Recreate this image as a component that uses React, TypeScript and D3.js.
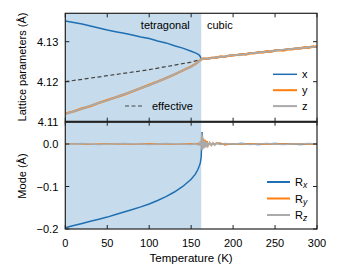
import * as d3 from "d3";

// lattice parameters vs temperature
const latT = [0, 10, 20, 30, 40, 50, 60, 70, 80, 90, 100, 110, 120, 130, 140, 150, 155, 158, 160, 162,
  165, 170, 175, 180, 185, 190, 195, 200, 205, 210, 215, 220, 225, 230, 235, 240, 245, 250, 255, 260, 265, 270, 275, 280, 285, 290, 295, 300];
const latX = [4.1352, 4.1348, 4.1344, 4.1339, 4.1334, 4.1329, 4.1325, 4.1321, 4.1317, 4.1312, 4.1308, 4.1302, 4.1297, 4.1290, 4.1284, 4.1276, 4.1272, 4.1269, 4.1266, 4.1258,
  4.1257, 4.1258, 4.1259, 4.1261, 4.1262, 4.1263, 4.1265, 4.1266, 4.1267, 4.1268, 4.1269, 4.1271, 4.1272, 4.1273, 4.1274, 4.1275, 4.1276, 4.1278, 4.1279, 4.1280, 4.1281, 4.1282, 4.1283, 4.1284, 4.1285, 4.1286, 4.1287, 4.1288];
const latY = [4.1120, 4.1126, 4.1133, 4.1139, 4.1147, 4.1154, 4.1161, 4.1168, 4.1176, 4.1184, 4.1192, 4.1200, 4.1209, 4.1218, 4.1228, 4.1238, 4.1244, 4.1249, 4.1252, 4.1256,
  4.1258, 4.1257, 4.1260, 4.1260, 4.1263, 4.1262, 4.1265, 4.1266, 4.1267, 4.1269, 4.1268, 4.1271, 4.1271, 4.1274, 4.1273, 4.1276, 4.1275, 4.1278, 4.1279, 4.1278, 4.1281, 4.1281, 4.1283, 4.1283, 4.1286, 4.1285, 4.1288, 4.1287];
const latZ = [4.1119, 4.1126, 4.1132, 4.1140, 4.1147, 4.1153, 4.1161, 4.1169, 4.1176, 4.1184, 4.1191, 4.1200, 4.1209, 4.1219, 4.1228, 4.1237, 4.1244, 4.1248, 4.1252, 4.1256,
  4.1257, 4.1258, 4.1259, 4.1261, 4.1262, 4.1263, 4.1265, 4.1266, 4.1267, 4.1268, 4.1269, 4.1271, 4.1272, 4.1273, 4.1274, 4.1275, 4.1276, 4.1278, 4.1279, 4.1280, 4.1281, 4.1282, 4.1283, 4.1284, 4.1285, 4.1286, 4.1287, 4.1288];
const effT = [0, 50, 100, 150, 162];
const effective = [4.1200, 4.1215, 4.1230, 4.1249, 4.1256];

// mode amplitudes vs temperature
const modeT = [0, 10, 20, 30, 40, 50, 60, 70, 80, 90, 100, 110, 120, 130, 140, 150,
  155, 158, 160, 161, 162, 162.5, 163, 163.5, 164, 165, 166, 167, 168, 169, 170,
  172, 174, 176, 178, 180, 185, 190, 200, 210, 220, 230, 240, 250, 260, 270, 280, 290, 300];
const modeX = [-0.197, -0.192, -0.187, -0.182, -0.177, -0.172, -0.166, -0.160, -0.154, -0.148, -0.141, -0.133, -0.124, -0.113, -0.100, -0.083,
  -0.071, -0.060, -0.050, -0.044, -0.030, 0.000, 0.028, -0.004, 0.012, 0.006, -0.006, 0.004, -0.003, 0.003, -0.002,
  0.002, -0.002, 0.001, -0.001, 0.001, 0.001, -0.001, 0.000, 0.001, 0.000, -0.001, 0.000, 0.001, 0.000, 0.000, -0.001, 0.000, 0.000];
const modeY = [0, 0.001, 0, -0.001, 0, 0.001, 0, 0, -0.001, 0, 0.001, 0, 0, -0.001, 0, 0.001,
  0, 0.002, -0.002, 0.003, -0.004, 0.010, -0.012, 0.015, -0.010, 0.012, -0.008, 0.010, -0.006, 0.007, -0.005,
  0.004, -0.004, 0.003, -0.003, 0.002, 0.002, -0.002, 0.001, -0.001, 0.001, 0, -0.001, 0.001, 0, 0, 0.001, -0.001, 0];
const modeZ = [0, 0, 0.001, 0, -0.001, 0, 0, 0.001, 0, 0, -0.001, 0, 0.001, 0, 0, -0.001,
  0.001, -0.002, 0.003, -0.004, 0.008, 0.025, -0.015, 0.020, -0.012, 0.008, -0.010, 0.006, -0.007, 0.004, -0.004,
  0.003, -0.003, 0.002, -0.002, 0.002, -0.001, 0.001, 0, 0.001, -0.001, 0, 0.001, 0, -0.001, 0, 0, 0.001, 0];

const xTicks = [0, 50, 100, 150, 200, 250, 300];
const latTicks = [4.11, 4.12, 4.13];
const modeTicks = [0, -0.1, -0.2];
const transitionT = 162;

const BLUE = "#1f6fb2";
const ORANGE = "#ff7f0e";
const GRAY = "#aaaaaa";
const SHADE = "#c6dcec";
const FRAME = "#222";
const FONT = "Liberation Sans, Arial, sans-serif";

export default function App() {
  const left = 65.3, right = 317;
  const x = d3.scaleLinear().domain([0, 300]).range([left, right]);
  const yTop = d3.scaleLinear().domain([4.11, 4.13]).range([121.7, 41.7]);
  const yBot = d3.scaleLinear().domain([-0.2, 0]).range([229, 144]);
  const topY0 = 13.3, midY = 121.7, botY1 = 229;

  const line = (xs: number[], ys: number[], sy: d3.ScaleLinear<number, number>) =>
    d3.line<number>().x((_, i) => x(xs[i])).y(d => sy(d))(ys) as string;

  const tick = 4;

  return (
    <svg width={340} height={280} style={{position: "absolute", left: 0, top: 0}} fontFamily={FONT}>
      <defs>
        <clipPath id="ctop"><rect x={left} y={topY0} width={right - left} height={midY - topY0} /></clipPath>
        <clipPath id="cbot"><rect x={left} y={midY} width={right - left} height={botY1 - midY} /></clipPath>
      </defs>
      {/* shaded tetragonal region */}
      <rect x={x(0)} y={topY0} width={x(transitionT) - x(0)} height={botY1 - topY0} fill={SHADE} />

      {/* top panel */}
      <g clipPath="url(#ctop)">
        <path d={line(effT, effective, yTop)} fill="none" stroke="#444" strokeWidth={1.2} strokeDasharray="4,2.5" />
        <path d={line(latT, latX, yTop)} fill="none" stroke={BLUE} strokeWidth={1.5} />
        <path d={line(latT, latY, yTop)} fill="none" stroke={ORANGE} strokeWidth={2.4} />
        <path d={line(latT, latZ, yTop)} fill="none" stroke={GRAY} strokeWidth={1.8} />
      </g>
      <text x={x(0) + 100} y={29} fontSize={11} textAnchor="middle">tetragonal</text>
      <text x={207} y={29} fontSize={11}>cubic</text>
      {[["x", BLUE], ["y", ORANGE], ["z", GRAY]].map(([lab, c], i) => (
        <g key={lab}>
          <line x1={273} x2={297} y1={74.3 + i * 15.9} y2={74.3 + i * 15.9} stroke={c} strokeWidth={lab === "x" ? 1.5 : 2} />
          <text x={302} y={78 + i * 15.9} fontSize={11}>{lab}</text>
        </g>
      ))}
      <line x1={125} x2={143} y1={106} y2={106} stroke="#444" strokeWidth={1.2} strokeDasharray="4,2.5" />
      <text x={152} y={110} fontSize={11}>effective</text>

      {/* bottom panel */}
      <g clipPath="url(#cbot)">
        <path d={line(modeT, modeX, yBot)} fill="none" stroke={BLUE} strokeWidth={1.5} />
        <path d={line(modeT, modeY, yBot)} fill="none" stroke={ORANGE} strokeWidth={1.3} />
        <path d={line(modeT, modeZ, yBot)} fill="none" stroke={GRAY} strokeWidth={1.5} />
      </g>
      {[["x", BLUE], ["y", ORANGE], ["z", GRAY]].map(([lab, c], i) => (
        <g key={"R" + lab}>
          <line x1={267} x2={290} y1={182 + i * 16.5} y2={182 + i * 16.5} stroke={c} strokeWidth={2} />
          <text x={295} y={186 + i * 16.5} fontSize={11}>R<tspan fontSize={8.5} fontStyle="italic" dy={2}>{lab}</tspan></text>
        </g>
      ))}

      {/* frames */}
      <rect x={left} y={topY0} width={right - left} height={midY - topY0} fill="none" stroke={FRAME} strokeWidth={1.2} />
      <rect x={left} y={midY} width={right - left} height={botY1 - midY} fill="none" stroke={FRAME} strokeWidth={1.2} />
      <line x1={left} x2={right} y1={midY} y2={midY} stroke={FRAME} strokeWidth={2} />

      {/* x ticks */}
      {xTicks.map(t => (
        <g key={"xt" + t} stroke={FRAME} strokeWidth={1}>
          <line x1={x(t)} x2={x(t)} y1={topY0} y2={topY0 + tick} />
          <line x1={x(t)} x2={x(t)} y1={midY} y2={midY - tick} />
          <line x1={x(t)} x2={x(t)} y1={midY} y2={midY + tick} />
          <line x1={x(t)} x2={x(t)} y1={botY1} y2={botY1 - tick} />
        </g>
      ))}
      {xTicks.map(t => (
        <text key={"xl" + t} x={x(t)} y={247} fontSize={11} textAnchor="middle">{t}</text>
      ))}

      {/* y ticks top */}
      {latTicks.map(t => (
        <g key={"lt" + t}>
          <line x1={left} x2={left + tick} y1={yTop(t)} y2={yTop(t)} stroke={FRAME} />
          <line x1={right} x2={right - tick} y1={yTop(t)} y2={yTop(t)} stroke={FRAME} />
          <text x={left - 7} y={yTop(t) + 4} fontSize={11} textAnchor="end">{t.toFixed(2)}</text>
        </g>
      ))}
      {modeTicks.map(t => (
        <g key={"mt" + t}>
          <line x1={left} x2={left + tick} y1={yBot(t)} y2={yBot(t)} stroke={FRAME} />
          <line x1={right} x2={right - tick} y1={yBot(t)} y2={yBot(t)} stroke={FRAME} />
          <text x={left - 7} y={yBot(t) + 4} fontSize={11} textAnchor="end">{t === 0 ? "0.0" : "\u2212" + Math.abs(t).toFixed(1)}</text>
        </g>
      ))}

      {/* axis labels */}
      <text transform={`translate(26,67) rotate(-90)`} fontSize={11} textAnchor="middle">Lattice parameters (Å)</text>
      <text transform={`translate(26,176) rotate(-90)`} fontSize={11} textAnchor="middle">Mode (Å)</text>
      <text x={(left + right) / 2} y={262} fontSize={11.5} textAnchor="middle">Temperature (K)</text>
    </svg>
  );
}
